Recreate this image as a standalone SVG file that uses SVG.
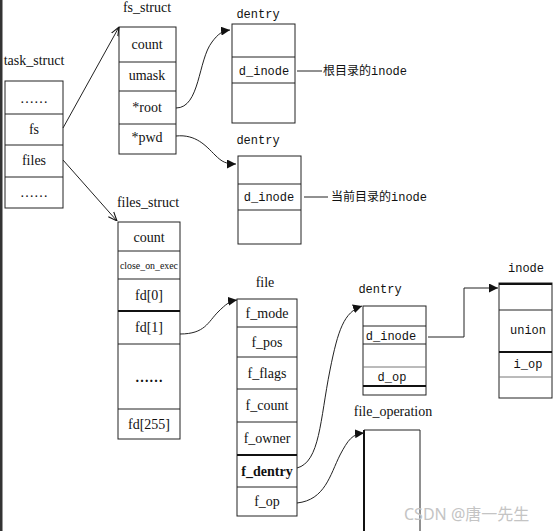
<svg xmlns="http://www.w3.org/2000/svg" width="555" height="531" viewBox="0 0 555 531">
<style>
.box{fill:#fff;stroke:#222;stroke-width:1}
.div{stroke:#222;stroke-width:1}
.thick{stroke:#111;stroke-width:2}
.t{font-family:"Liberation Serif","Times New Roman",serif;font-size:14px;fill:#111;text-anchor:middle}
.m{font-family:"Liberation Mono","DejaVu Sans Mono",monospace;font-size:12px;fill:#111;text-anchor:middle}
.cj{font-family:"Liberation Mono","Noto Sans CJK SC",monospace;font-size:12px;fill:#111}
.c{fill:none;stroke:#222;stroke-width:1}
.wm{font-family:"Noto Sans","Noto Sans CJK SC",sans-serif;font-size:16px;fill:#c4c4c4}
</style>
<defs>
<marker id="ah" viewBox="0 0 10 10" refX="10" refY="5" markerWidth="9" markerHeight="9" markerUnits="userSpaceOnUse" orient="auto">
<path d="M0,0 L10,5 L0,10 z" fill="#111"/>
</marker>
<marker id="ao" viewBox="0 0 10 10" refX="10" refY="5" markerWidth="9" markerHeight="9" markerUnits="userSpaceOnUse" orient="auto">
<path d="M0,1 L10,5 L0,9" fill="none" stroke="#111" stroke-width="1.2"/>
</marker>
</defs>
<rect x="0" y="0" width="555" height="531" fill="#fff"/>
<rect x="0" y="0" width="2.5" height="531" fill="#333"/>

<g id="task_struct">
<text class="t" x="34" y="65">task_struct</text>
<rect class="box" x="5" y="81" width="58" height="127"/>
<line class="div" x1="5" y1="114" x2="63" y2="114"/>
<line class="div" x1="5" y1="145" x2="63" y2="145"/>
<line class="div" x1="5" y1="177" x2="63" y2="177"/>
<text class="t" x="34" y="103">……</text>
<text class="t" x="34" y="134">fs</text>
<text class="t" x="34" y="165">files</text>
<text class="t" x="34" y="197">……</text>
</g>

<g id="fs_struct">
<text class="t" x="147" y="12">fs_struct</text>
<rect class="box" x="119" y="27" width="57" height="127"/>
<line class="div" x1="119" y1="62" x2="176" y2="62"/>
<line class="div" x1="119" y1="91" x2="176" y2="91"/>
<line class="div" x1="119" y1="124" x2="176" y2="124"/>
<text class="t" x="147" y="49">count</text>
<text class="t" x="147" y="80">umask</text>
<text class="t" x="147" y="112">*root</text>
<text class="t" x="147" y="142">*pwd</text>
</g>

<g id="dentry_root">
<text class="m" x="258" y="18">dentry</text>
<rect class="box" x="232" y="24" width="63" height="99"/>
<line class="div" x1="232" y1="57" x2="295" y2="57"/>
<line class="div" x1="232" y1="83" x2="295" y2="83"/>
<text class="m" x="264" y="75">d_inode</text>
<line class="div" x1="297" y1="71" x2="322" y2="71"/>
<text class="cj" x="323" y="75">根目录的inode</text>
</g>

<g id="dentry_pwd">
<text class="m" x="258" y="144">dentry</text>
<rect class="box" x="238" y="156" width="63" height="88"/>
<line class="div" x1="238" y1="184" x2="301" y2="184"/>
<line class="div" x1="238" y1="210" x2="301" y2="210"/>
<text class="m" x="269" y="201">d_inode</text>
<line class="div" x1="304" y1="197" x2="328" y2="197"/>
<text class="cj" x="331" y="201">当前目录的inode</text>
</g>

<g id="files_struct">
<text class="t" x="148" y="207">files_struct</text>
<rect class="box" x="118" y="222" width="62" height="217"/>
<line class="div" x1="118" y1="251" x2="180" y2="251"/>
<line class="div" x1="118" y1="279" x2="180" y2="279"/>
<line class="thick" x1="118" y1="311" x2="180" y2="311"/>
<line class="div" x1="118" y1="344" x2="180" y2="344"/>
<line class="div" x1="118" y1="409" x2="180" y2="409"/>
<text class="t" x="149" y="242">count</text>
<text class="t" x="149" y="269" style="font-size:10px" textLength="58" lengthAdjust="spacingAndGlyphs">close_on_exec</text>
<text class="t" x="149" y="300">fd[0]</text>
<text class="t" x="149" y="332">fd[1]</text>
<text class="t" x="149" y="382" style="font-weight:bold">……</text>
<text class="t" x="149" y="429">fd[255]</text>
</g>

<g id="file">
<text class="t" x="265" y="287">file</text>
<rect class="box" x="237" y="299" width="60" height="217"/>
<line class="div" x1="237" y1="327" x2="297" y2="327"/>
<line class="div" x1="237" y1="357" x2="297" y2="357"/>
<line class="div" x1="237" y1="389" x2="297" y2="389"/>
<line class="div" x1="237" y1="422" x2="297" y2="422"/>
<line class="thick" x1="237" y1="455" x2="297" y2="455"/>
<line class="div" x1="237" y1="487" x2="297" y2="487"/>
<text class="t" x="267" y="318">f_mode</text>
<text class="t" x="267" y="347">f_pos</text>
<text class="t" x="267" y="378">f_flags</text>
<text class="t" x="267" y="410">f_count</text>
<text class="t" x="267" y="443">f_owner</text>
<text class="t" x="267" y="476" style="font-weight:bold">f_dentry</text>
<text class="t" x="267" y="506">f_op</text>
</g>

<g id="dentry_file">
<text class="m" x="380" y="293">dentry</text>
<rect class="box" x="363" y="306" width="63" height="89"/>
<line class="div" x1="363" y1="326" x2="426" y2="326"/>
<line class="div" x1="363" y1="344" x2="426" y2="344"/>
<line class="div" x1="363" y1="367" x2="426" y2="367" style="stroke:#777"/>
<line class="thick" x1="363" y1="386" x2="426" y2="386"/>
<text class="m" x="391" y="340">d_inode</text>
<text class="m" x="392" y="381">d_op</text>
</g>

<g id="inode">
<text class="m" x="526" y="272">inode</text>
<rect class="box" x="499" y="283" width="53" height="115"/>
<line class="thick" x1="499" y1="284" x2="552" y2="284"/>
<line class="div" x1="499" y1="310" x2="552" y2="310"/>
<line class="thick" x1="499" y1="352" x2="552" y2="352"/>
<line class="div" x1="499" y1="377" x2="552" y2="377" style="stroke:#777"/>
<text class="m" x="528" y="334">union</text>
<text class="m" x="528" y="368">i_op</text>
</g>

<g id="file_operation">
<text class="t" x="393" y="416">file_operation</text>
<path class="c" d="M364,531 V430 H420 V531"/>
<line x1="364" y1="430" x2="364" y2="531" stroke="#111" stroke-width="2"/>
</g>

<g id="connectors">
<path class="c" d="M63,128 L119,27" marker-end="url(#ao)"/>
<path class="c" d="M63,160 L117,221" marker-end="url(#ao)"/>
<path class="c" d="M176,108 C200,108 198,60 212,42 C218,34 222,31 230,30" marker-end="url(#ah)"/>
<path class="c" d="M176,136 C196,134 206,146 215,155 C222,162 226,164 236,164" marker-end="url(#ah)"/>
<path class="c" d="M180,334 C205,334 208,322 218,312 C226,304 230,301 237,300" marker-end="url(#ah)"/>
<path class="c" d="M297,468 C320,462 320,420 330,370 C338,330 344,312 362,306" marker-end="url(#ah)"/>
<path class="c" d="M297,503 C325,500 330,475 340,455 C348,440 352,434 364,433" marker-end="url(#ah)"/>
<path class="c" d="M428,337 H464 V288 H498" marker-end="url(#ah)"/>
</g>

<text class="wm" x="404" y="520">CSDN @唐一先生</text>
</svg>
